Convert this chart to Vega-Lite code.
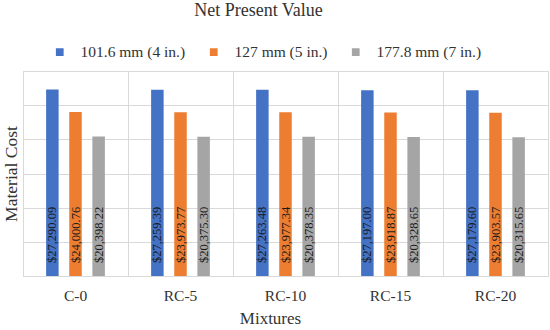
{
  "$schema": "https://vega.github.io/schema/vega-lite/v6.json",
  "width": 525,
  "height": 205,
  "autosize": {"type": "none"},
  "padding": {"left": 23, "top": 71, "right": 2, "bottom": 54},
  "background": "white",
  "config": {
    "font": "Liberation Serif",
    "view": {"stroke": "#d9d9d9"},
    "title": {"font": "Liberation Serif"}
  },
  "title": {
    "text": "Net Present Value",
    "font": "Liberation Serif",
    "fontSize": 18,
    "fontWeight": "normal",
    "color": "#333333",
    "anchor": "middle",
    "dx": -27,
    "offset": 24
  },
  "data": {
    "values": [
      {"mix": "C-0", "size": "101.6 mm (4 in.)", "value": 27290.09},
      {"mix": "C-0", "size": "127 mm (5 in.)", "value": 24000.76},
      {"mix": "C-0", "size": "177.8 mm (7 in.)", "value": 20398.22},
      {"mix": "RC-5", "size": "101.6 mm (4 in.)", "value": 27259.39},
      {"mix": "RC-5", "size": "127 mm (5 in.)", "value": 23973.77},
      {"mix": "RC-5", "size": "177.8 mm (7 in.)", "value": 20375.30},
      {"mix": "RC-10", "size": "101.6 mm (4 in.)", "value": 27263.48},
      {"mix": "RC-10", "size": "127 mm (5 in.)", "value": 23977.34},
      {"mix": "RC-10", "size": "177.8 mm (7 in.)", "value": 20378.35},
      {"mix": "RC-15", "size": "101.6 mm (4 in.)", "value": 27197.00},
      {"mix": "RC-15", "size": "127 mm (5 in.)", "value": 23918.87},
      {"mix": "RC-15", "size": "177.8 mm (7 in.)", "value": 20328.65},
      {"mix": "RC-20", "size": "101.6 mm (4 in.)", "value": 27179.60},
      {"mix": "RC-20", "size": "127 mm (5 in.)", "value": 23903.57},
      {"mix": "RC-20", "size": "177.8 mm (7 in.)", "value": 20315.65}
    ]
  },
  "encoding": {
    "x": {
      "field": "mix",
      "type": "nominal",
      "sort": ["C-0", "RC-5", "RC-10", "RC-15", "RC-20"],
      "scale": {"paddingInner": 0, "paddingOuter": 0},
      "axis": {
        "title": "Mixtures",
        "titleX": 247,
        "labelAngle": 0,
        "grid": true,
        "gridColor": "#d9d9d9",
        "bandPosition": 0,
        "ticks": false,
        "domainColor": "#d9d9d9",
        "labelFontSize": 15.5,
        "labelColor": "#333333",
        "labelPadding": 12,
        "titleFontSize": 17,
        "titleFontWeight": "normal",
        "titleColor": "#333333",
        "titlePadding": 7
      }
    },
    "xOffset": {
      "field": "size",
      "type": "nominal",
      "sort": ["101.6 mm (4 in.)", "127 mm (5 in.)", "177.8 mm (7 in.)"],
      "scale": {"paddingInner": 0.46, "paddingOuter": 1.2}
    },
    "y": {
      "type": "quantitative",
      "scale": {"domain": [0, 30000], "nice": false},
      "axis": {
        "values": [0, 5000, 10000, 15000, 20000, 25000, 30000],
        "labels": false,
        "ticks": false,
        "domain": false,
        "grid": true,
        "gridColor": "#d9d9d9",
        "title": "Material Cost",
        "titleFontSize": 17.5,
        "titleFontWeight": "normal",
        "titleColor": "#333333",
        "titlePadding": 3
      }
    }
  },
  "layer": [
    {
      "mark": {"type": "bar"},
      "encoding": {
        "y": {"field": "value", "type": "quantitative"},
        "color": {
          "field": "size",
          "type": "nominal",
          "sort": ["101.6 mm (4 in.)", "127 mm (5 in.)", "177.8 mm (7 in.)"],
          "scale": {
            "domain": ["101.6 mm (4 in.)", "127 mm (5 in.)", "177.8 mm (7 in.)"],
            "range": ["#4472C4", "#ED7D31", "#A5A5A5"]
          },
          "legend": {
            "orient": "none",
            "legendX": 29,
            "legendY": -27,
            "direction": "horizontal",
            "title": null,
            "symbolType": "square",
            "symbolSize": 60,
            "symbolStrokeWidth": 0,
            "labelFontSize": 15.5,
            "labelColor": "#333333",
            "labelOffset": 13,
            "columnPadding": 20,
            "padding": 0
          }
        }
      }
    },
    {
      "mark": {
        "type": "text",
        "angle": 270,
        "align": "left",
        "baseline": "middle",
        "dx": 13,
        "fontSize": 12.5,
        "color": "#1a1a1a"
      },
      "encoding": {
        "y": {"datum": 0, "type": "quantitative"},
        "text": {"field": "value", "type": "quantitative", "format": "$,.2f"}
      }
    }
  ]
}
